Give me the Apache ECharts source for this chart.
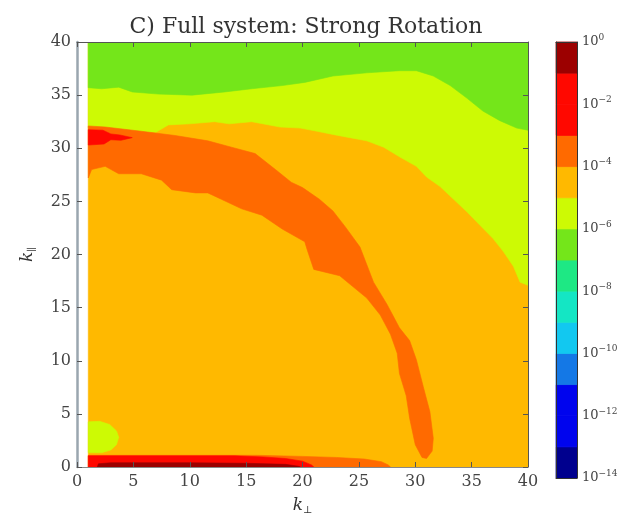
<!DOCTYPE html>
<html><head><meta charset="utf-8">
<script src="https://cdn.jsdelivr.net/npm/echarts@6/dist/echarts.min.js"></script>
<style>html,body{margin:0;padding:0;background:#fff}#c{width:635px;height:520px}</style>
</head><body><div id="c"></div>
<script>
// ---- data, contour regions in data coordinates (k_perp, k_par)
const amberField = [[1,0],[40,0],[40,40],[1,40]];
const yellowUpper = [[1,40],[40,40],[40,17.1],[39.3,17.4],[38.7,18.9],[37.8,20.3],[36.9,21.5],[35.7,22.8],[34.6,24.0],[33.4,25.2],[32.2,26.4],[31.0,27.3],[30.1,28.3],[28.6,29.2],[27.2,30.1],[25.7,30.7],[24.2,31.0],[22.7,31.3],[21.3,31.6],[19.8,31.9],[18.0,32.0],[15.5,32.5],[13.5,32.3],[12.2,32.5],[10.0,32.3],[8.1,32.2],[7.0,31.5],[4.0,31.6],[1,31.9]];
const greenTop = [[1,40],[40,40],[40,31.7],[39.0,31.9],[37.5,32.6],[36.0,33.5],[34.6,34.7],[33.1,35.9],[31.6,36.8],[30.1,37.3],[28.6,37.3],[25.7,37.1],[22.7,36.8],[20.2,36.2],[18.2,35.9],[15.5,35.6],[13.1,35.3],[10.2,35.0],[7.2,35.1],[4.9,35.3],[3.7,35.75],[2.2,35.6],[1,35.7]];
const yellowBlob = [[1,4.25],[2.0,4.3],[2.9,4.0],[3.5,3.4],[3.7,2.8],[3.5,2.1],[3.0,1.6],[2.2,1.35],[1,1.35]];
const orangeArc = [[1,32.1],[2.5,32.0],[5.7,31.6],[8.7,31.2],[11.6,30.7],[13.7,30.1],[15.8,29.5],[17.6,28.0],[19.0,26.8],[20.0,26.3],[21.5,25.2],[22.7,24.1],[23.8,22.6],[25.1,20.7],[26.3,17.4],[27.5,15.3],[28.6,13.1],[29.5,11.9],[30.1,10.1],[30.7,7.6],[31.3,5.2],[31.6,2.7],[31.5,1.5],[31.0,0.8],[30.6,0.9],[30.0,2.1],[29.5,4.6],[29.2,6.7],[28.6,8.8],[28.4,10.7],[27.8,12.5],[26.9,14.3],[25.7,15.9],[23.3,18.0],[21.0,18.6],[20.4,20.5],[20.2,21.2],[18.2,22.4],[16.4,23.7],[14.6,24.3],[12.8,25.2],[11.6,25.8],[10.5,25.8],[8.4,26.1],[7.5,27.0],[5.7,27.6],[3.7,27.6],[2.5,28.3],[1.3,28.0],[1,27.2]];
const redBlob = [[1,31.75],[2.3,31.7],[3.0,31.35],[3.8,31.25],[4.9,31.0],[3.9,30.75],[3.0,30.8],[2.4,30.4],[1,30.3]];
const orangeBottom = [[1,0],[1,1.1],[16,1.1],[20,1.0],[23,0.9],[25.5,0.75],[27,0.5],[27.6,0.2],[27.8,0]];
const redBottom = [[1,0],[1,1.05],[14,1.05],[16.5,0.95],[18.5,0.8],[20,0.55],[20.8,0.2],[21,0]];
const darkRedBottom = [[1.8,0],[1.9,0.3],[3,0.4],[10,0.4],[15,0.35],[18.5,0.25],[19.6,0.08],[19.8,0]];

// level (lower decade exponent) of each region, drawn in this order
const regionShapes = [amberField, yellowUpper, greenTop, yellowBlob, orangeArc, orangeBottom, redBottom, darkRedBottom, redBlob];
const regionLevels = [-5, -6, -7, -6, -4, -4, -2, -1, -2];

// colour bar decades and tick labels
const cbLevels = [-14,-13,-12,-11,-10,-9,-8,-7,-6,-5,-4,-3,-2,-1];
const axisTicks = [0,5,10,15,20,25,30,35,40];

// ---- styling
const levelColor = {
  '-14':'#00008e','-13':'#0004ee','-12':'#0004ee','-11':'#1478e6','-10':'#12c8f0','-9':'#14e6c4',
  '-8':'#1ee884','-7':'#74e61a','-6':'#cdfa04','-5':'#ffb900','-4':'#ff6a00','-3':'#ff0800',
  '-2':'#ff0800','-1':'#9c0000'
};
const FONT = 'DejaVu Serif';
const TXT = '#444';

const chart = echarts.init(document.getElementById('c'), null, {renderer:'canvas'});

const kRich = {
  k:{fontFamily:FONT,fontStyle:'italic',fontSize:17,color:'#333'},
  s:{fontFamily:FONT,fontSize:10,color:'#333',padding:[9,0,0,0]}
};

const option = {
  animation:false,
  backgroundColor:'#fff',
  title:{text:'C) Full system: Strong Rotation', left:301, top:11, textAlign:'center',
    textStyle:{fontFamily:FONT,fontSize:22,fontWeight:'normal',color:'#333'}},
  grid:[
    {left:77,top:42,width:451,height:436},
    {left:556,top:42,width:21,height:436}
  ],
  xAxis:[
    {gridIndex:0,type:'value',min:0,max:40,interval:5,position:'bottom',z:10,
      axisLine:{show:true,onZero:false,lineStyle:{color:'#888',width:1}},
      axisTick:{show:true,inside:true,length:5,lineStyle:{color:'#555'}},
      axisLabel:{margin:7,fontFamily:FONT,fontSize:16,color:TXT,customValues:axisTicks},
      splitLine:{show:false},
      name:'{k|k}{s|⊥}',nameLocation:'middle',nameGap:29,nameTextStyle:{rich:kRich}},
    {gridIndex:0,type:'value',min:0,max:40,interval:5,position:'top',z:10,
      axisLine:{show:true,onZero:false,lineStyle:{color:'#555',width:1}},
      axisTick:{show:true,inside:true,length:5,lineStyle:{color:'#555'}},
      axisLabel:{show:false},splitLine:{show:false}},
    {gridIndex:1,type:'value',min:0,max:1,position:'bottom',z:10,
      axisLine:{show:true,onZero:false,lineStyle:{color:'#333'}},axisTick:{show:false},axisLabel:{show:false},splitLine:{show:false}},
    {gridIndex:1,type:'value',min:0,max:1,position:'top',z:10,
      axisLine:{show:true,onZero:false,lineStyle:{color:'#333'}},axisTick:{show:false},axisLabel:{show:false},splitLine:{show:false}}
  ],
  yAxis:[
    {gridIndex:0,type:'value',min:0,max:40,interval:5,position:'left',z:10,
      axisLine:{show:true,onZero:false,lineStyle:{color:'#9aa6af',width:2.5}},
      axisTick:{show:true,inside:true,length:5,lineStyle:{color:'#555'}},
      axisLabel:{margin:6,fontFamily:FONT,fontSize:16,color:TXT},
      splitLine:{show:false},
      name:'{k|k}{s|∥}',nameLocation:'middle',nameGap:40,nameRotate:90,nameTextStyle:{rich:kRich}},
    {gridIndex:0,type:'value',min:0,max:40,interval:5,position:'right',z:10,
      axisLine:{show:true,onZero:false,lineStyle:{color:'#555',width:1}},
      axisTick:{show:true,inside:true,length:5,lineStyle:{color:'#555'}},
      axisLabel:{show:false},splitLine:{show:false}},
    {gridIndex:1,type:'value',min:-14,max:0,interval:2,position:'right',z:10,
      axisLine:{show:true,onZero:false,lineStyle:{color:'#333'}},
      axisTick:{show:false},
      axisLabel:{margin:5,fontFamily:FONT,fontSize:13,color:TXT,
        formatter:v=> v===0 ? '10{s|0}' : '10{s|−'+(-v)+'}',
        rich:{s:{fontFamily:FONT,fontSize:9,color:TXT,padding:[0,0,9,0]}}},
      splitLine:{show:false}},
    {gridIndex:1,type:'value',min:-14,max:0,interval:2,position:'left',z:10,
      axisLine:{show:true,onZero:false,lineStyle:{color:'#333'}},axisTick:{show:false},axisLabel:{show:false},splitLine:{show:false}}
  ],
  series:[
    {type:'custom',xAxisIndex:0,yAxisIndex:0,silent:true,clip:true,
      encode:{x:0,y:1},
      data:regionShapes.map((s,i)=>[s[0][0],s[0][1],i]),
      renderItem:(params,api)=>{
        const i = api.value(2);
        const pts = regionShapes[i].map(p=>api.coord(p));
        const c = levelColor[regionLevels[i]];
        return {type:'polygon',shape:{points:pts},style:{fill:c,stroke:c,lineWidth:0.6}};
      }},
    {type:'custom',xAxisIndex:2,yAxisIndex:2,silent:true,
      encode:{x:0,y:1},
      data:cbLevels.map(l=>[0,l]),
      renderItem:(params,api)=>{
        const lo = api.value(1);
        const a = api.coord([0,lo+1]);
        const b = api.coord([1,lo]);
        const c = levelColor[lo];
        return {type:'rect',shape:{x:a[0],y:a[1],width:b[0]-a[0],height:b[1]-a[1]},
          style:{fill:c,stroke:c,lineWidth:0.8}};
      }}
  ]
};
chart.setOption(option);
</script>
</body></html>
